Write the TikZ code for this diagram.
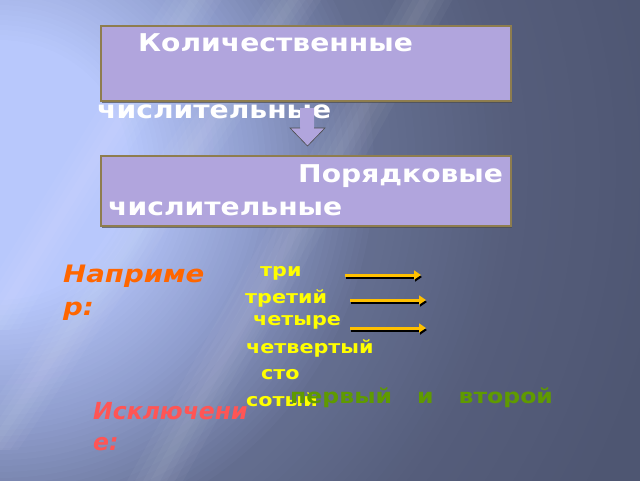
\documentclass[tikz,border=0pt]{standalone}
\usepackage{fontspec}
\setmainfont{DejaVu Sans}[FakeStretch=1.15]
\newfontfamily\plainfont{DejaVu Sans}
\usetikzlibrary{arrows.meta,shadows}
\definecolor{bgA}{HTML}{B8C8FC}
\definecolor{bgB}{HTML}{8E9CCC}
\definecolor{bgC}{HTML}{646E90}
\definecolor{bgC2}{HTML}{555D7B}
\definecolor{bgD}{HTML}{4E5672}
\definecolor{boxfill}{HTML}{B1A5DD}
\definecolor{boxline}{HTML}{8E7D4E}
\definecolor{ytext}{HTML}{FFFF00}
\definecolor{yarrow}{HTML}{FFC000}
\definecolor{otext}{HTML}{FF6600}
\definecolor{rtext}{HTML}{FF5555}
\definecolor{gtext}{HTML}{5F9A00}
\tikzset{
  box/.style={draw=boxline, line width=1.8pt, fill=boxfill, minimum width=410pt, anchor=north west, inner sep=0pt,
    drop shadow={shadow xshift=1pt, shadow yshift=-2.5pt, fill=black!70, opacity=0.7}},
  wtext/.style={text=white, font=\fontsize{24.5}{28}\selectfont\bfseries, inner sep=0pt, anchor=west},
  ytxt/.style={text=ytext, font=\fontsize{18}{22}\selectfont\bfseries, inner sep=0pt, anchor=west},
  otxt/.style={text=otext, font=\fontsize{24}{33}\selectfont\bfseries\itshape, inner sep=0pt, anchor=north west, align=left},
  rtxt/.style={text=rtext, font=\plainfont\fontsize{23.5}{31}\selectfont\bfseries\itshape, inner sep=0pt, anchor=north west, align=left},
  gtxt/.style={text=gtext, font=\fontsize{20.5}{26}\selectfont\bfseries, inner sep=0pt, anchor=west},
  yarr/.style={draw=yarrow, line width=3pt, -{Triangle[length=7pt,width=9pt]}},
  sarr/.style={draw=black, line width=3pt, -{Triangle[length=7pt,width=9pt]}},
  streak/.style={fill=white, opacity=0.035}
}
\begin{document}
\begin{tikzpicture}[x=1pt,y=-1pt]
\useasboundingbox (0,0) rectangle (640,480);
% background
\begin{scope}
\clip (-10,-10) rectangle (650,490);
\fill[bgD] (-10,-10) rectangle (650,490);
\foreach \r in {680,672,...,520}{\pgfmathsetmacro\p{(\r-520)/160*100}\fill[bgD!\p!bgC2] (0,170) circle (\r);}
\foreach \r in {512,504,...,384}{\pgfmathsetmacro\p{(\r-380)/140*100}\fill[bgC2!\p!bgC] (0,170) circle (\r);}
\foreach \r in {374,368,...,260}{\pgfmathsetmacro\p{(\r-260)/120*100}\fill[bgC!\p!bgB] (0,170) circle (\r);}
\foreach \r in {255,250,...,130}{\pgfmathsetmacro\p{(\r-130)/130*100}\fill[bgB!\p!bgA] (0,170) circle (\r);}
\foreach \w in {5,12,20,28}{
  \fill[streak] (430-\w,-10) -- (430+\w,-10) -- (150+\w,490) -- (150-\w,490) -- cycle;
  \fill[streak] (300-\w,-10) -- (300+\w,-10) -- (-10+\w,450) -- (-10-\w,450) -- cycle;
  \fill[streak] (200-\w,-10) -- (200+\w,-10) -- (-10+\w,330) -- (-10-\w,330) -- cycle;
}
\end{scope}
% boxes
\node[box, minimum height=75pt] (b1) at (100,25) {};
\node[box, minimum height=70pt] (b2) at (100,155) {};
% texts
\node[wtext] (t1) at (138,43) {Количественные};
\node[wtext] (t2) at (97,112) {числительные};
\node[wtext] (t3) at (298,176) {Порядковые};
\node[wtext] (t4) at (108,209) {числительные};
% down arrow
\fill[boxfill] (300,108) -- (314,108) -- (314,128) -- (325,128) -- (307.5,146) -- (290,128) -- (300,128) -- cycle;
\draw[black!70, line width=0.6pt] (300,128) -- (290,128) -- (307.5,146) -- (325,128) -- (314,128);
\node[otxt] (ex) at (63,265) {Наприме\\р:};
\node[ytxt] (y1) at (260,273) {три};
\node[ytxt] (y2) at (245,298) {третий};
\node[ytxt] (y3) at (253,322) {четыре};
\node[ytxt] (y4) at (246,348) {четвертый};
\node[ytxt] (y5) at (261,375) {сто};
\node[ytxt] (y6) at (246,400) {сотый};
\node[gtxt] (g1) at (290,398) {первый\hspace{25pt}и\hspace{25pt}второй};
\node[rtxt] (ex2) at (93,402) {Исключени\\е:};
% arrows
\coordinate (a1s) at (345,275); \coordinate (a1e) at (421,275);
\coordinate (a2s) at (350,300); \coordinate (a2e) at (426,300);
\coordinate (a3s) at (350,328); \coordinate (a3e) at (426,328);
\foreach \s/\e in {a1s/a1e,a2s/a2e,a3s/a3e}{
  \draw[sarr] ([shift={(1,2)}]\s) -- ([shift={(1,2)}]\e);
  \draw[yarr] (\s) -- (\e);
}
\end{tikzpicture}
\end{document}
